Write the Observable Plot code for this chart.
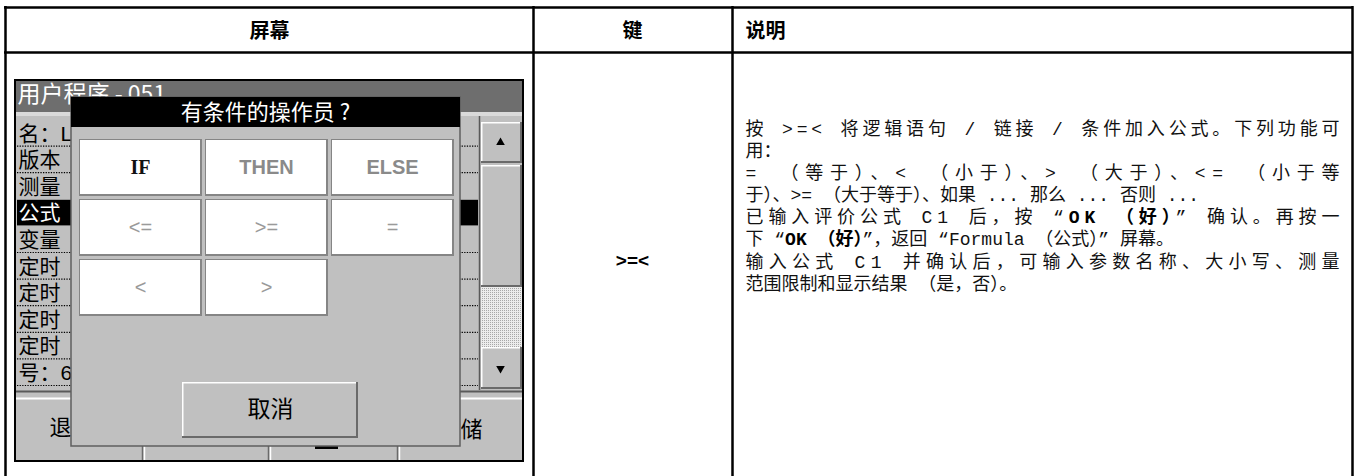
<!DOCTYPE html>
<html>
<head>
<meta charset="utf-8">
<script src="https://cdn.jsdelivr.net/npm/d3@7"></script>
<script src="https://cdn.jsdelivr.net/npm/@observablehq/plot@0.6"></script>
<style>
  html, body { margin: 0; padding: 0; background: #fff; }
  svg { display: block; }
</style>
</head>
<body>
<div id="chart"></div>
<script>
// ---------- content ----------
const headers = ["屏幕", "键", "说明"];
const keyLabels = [">=<"];
const screenTitle = ["用户程序 - 051"];
const dialogTitle = ["有条件的操作员 ?"];
const dialogButtons = ["IF", "THEN", "ELSE", "<=", ">=", "=", "<", ">"];
const cancelLabel = ["取消"];
const listItems = ["名：L", "版本", "测量", "公式", "变量", "定时", "定时", "定时", "定时", "号：6"];
const activeItem = "公式";
const bottomLeft = ["退出"];
const bottomRight = ["存储"];
const descLines = [
  "按 >=< 将逻辑语句 / 链接 / 条件加入公式。下列功能可",
  "用：",
  "= （等于）、< （小于）、> （大于）、<= （小于等",
  "于）、>= （大于等于）、如果 ... 那么 ... 否则 ...",
  "已输入评价公式 C1 后，按 “**OK （好）**” 确认。再按一",
  "下 “**OK （好）**”，返回 “Formula （公式）” 屏幕。",
  "输入公式 C1 并确认后，可输入参数名称、大小写、测量",
  "范围限制和显示结果 （是，否）。"
];
const justifiedLines = [true, false, true, false, true, false, true, false];

// ---------- layout (pixels) ----------
const W = 1355, H = 476;
const CJK = '"Noto Sans CJK SC", sans-serif';
const LIST_FONT = '"Liberation Sans", "Noto Sans CJK SC", sans-serif';
const DESC_FONT = '"Liberation Mono", "Noto Sans CJK SC", monospace';
const rowTop = 119, rowH = 26.6;
const btnCols = [[80, 200], [206, 326], [332, 452]];
const btnRows = [[140, 194], [200, 254], [260, 314]];
const bx1 = (d, i) => btnCols[i % 3][0], bx2 = (d, i) => btnCols[i % 3][1];
const by1 = (d, i) => btnRows[Math.floor(i / 3)][0], by2 = (d, i) => btnRows[Math.floor(i / 3)][1];
const bcx = (d, i) => (btnCols[i % 3][0] + btnCols[i % 3][1]) / 2;
const bcy = (d, i) => (btnRows[Math.floor(i / 3)][0] + btnRows[Math.floor(i / 3)][1]) / 2;

const R = (x1, y1, x2, y2, fill, o = {}) => Plot.rect([0], {x1, y1, x2, y2, fill, ...o});
const raised = (x1, y1, x2, y2, face = "#c0c0c0") => [
  R(x1, y1, x2, y2, "#6a6a6a"),
  R(x1, y1, x2 - 2, y2 - 2, "#ffffff"),
  R(x1 + 1.5, y1 + 1.5, x2 - 2, y2 - 2, face)
];

const listBounds = listItems.map((d, i) => rowTop + (i + 1) * rowH);
const activeIndex = listItems.indexOf(activeItem);
const headerStyle = {y: 31, text: d => d, fontFamily: CJK, fontWeight: 700, fontSize: 20, fill: "#000"};

const marks = [
  // table grid
  Plot.ruleY([7, 52], {x1: 4, x2: 1353, stroke: "#000", strokeWidth: 2.5}),
  Plot.ruleX([5, 533, 732, 1352], {y1: 6, y2: H, stroke: "#000", strokeWidth: 2.5}),
  Plot.text(headers, {...headerStyle, filter: (d, i) => i === 0, x: 269, textAnchor: "middle"}),
  Plot.text(headers, {...headerStyle, filter: (d, i) => i === 1, x: 632, textAnchor: "middle"}),
  Plot.text(headers, {...headerStyle, filter: (d, i) => i === 2, x: 745, textAnchor: "start"}),

  // device screen frame
  R(15, 80, 523, 461, "#c0c0c0", {stroke: "#000", strokeWidth: 2}),
  R(16, 81, 522, 112, "#6e6e6e"),
  R(16, 112, 522, 116, "#dadada"),
  // list rows behind the dialog
  Plot.ruleY(listBounds.filter((d, i) => i !== activeIndex && i !== activeIndex - 1),
    {x1: 17, x2: 478, stroke: "#000", strokeWidth: 1.2, strokeDasharray: "1.3,1.3"}),
  Plot.rect(listItems, {filter: d => d === activeItem, x1: 17, x2: 478,
    y1: (d, i) => rowTop + i * rowH + 1, y2: (d, i) => rowTop + (i + 1) * rowH, fill: "#000"}),
  Plot.text(listItems, {filter: d => d !== activeItem, x: 18, y: (d, i) => rowTop + i * rowH + rowH / 2 + 1,
    text: d => d, textAnchor: "start", fontFamily: LIST_FONT, fontSize: 21, fill: "#000"}),
  Plot.text(listItems, {filter: d => d === activeItem, x: 18, y: (d, i) => rowTop + i * rowH + rowH / 2 + 1,
    text: d => d, textAnchor: "start", fontFamily: LIST_FONT, fontSize: 21, fill: "#fff"}),
  Plot.ruleX([479], {y1: 116, y2: 390, stroke: "#5a5a5a", strokeWidth: 1.5}),

  // scrollbar
  ...raised(481, 122, 522, 163),
  Plot.dot([0], {x: 500, y: 142, symbol: "triangle", r: 3.2, fill: "#000", stroke: "none"}),
  ...raised(481, 165, 522, 287),
  R(481, 287, 522, 347, "url(#dots)"),
  ...raised(481, 347, 522, 389),
  Plot.dot([0], {x: 500, y: 368, symbol: "triangle", r: 3.2, rotate: 180, fill: "#000", stroke: "none"}),

  // bottom button bar
  R(16, 390, 522, 460, "#c0c0c0"),
  Plot.ruleY([391], {x1: 16, x2: 522, stroke: "#5a5a5a", strokeWidth: 2}),
  Plot.ruleY([398], {x1: 16, x2: 522, stroke: "#ffffff", strokeWidth: 2}),
  Plot.ruleX([142, 268, 397], {y1: 398, y2: 460, stroke: "#6a6a6a", strokeWidth: 1.5}),
  Plot.ruleX([144, 270, 399], {y1: 398, y2: 460, stroke: "#ffffff", strokeWidth: 1.5}),
  Plot.text(bottomLeft, {x: 49, y: 427, text: d => d, textAnchor: "start", fontFamily: CJK, fontSize: 22, fill: "#000"}),
  Plot.text(bottomRight, {x: 482, y: 429, text: d => d, textAnchor: "end", fontFamily: CJK, fontSize: 22, fill: "#000"}),
  R(315, 443, 338, 449, "#000"),

  // screen title (partly hidden by the dialog)
  Plot.text(screenTitle, {x: 17, y: 94, text: d => d, textAnchor: "start", fontFamily: CJK, fontSize: 23, fill: "#fff"}),

  // dialog
  R(71, 97, 460, 446, "#c0c0c0", {stroke: "#5f5f5f", strokeWidth: 1.5}),
  R(71, 97, 460, 127, "#000"),
  Plot.text(dialogTitle, {x: 265, y: 112, text: d => d, fontFamily: CJK, fontSize: 22, fill: "#fff"}),

  // dialog buttons
  Plot.rect(dialogButtons, {x1: (d, i) => bx1(d, i) - 1, x2: (d, i) => bx2(d, i) + 2,
    y1: (d, i) => by1(d, i) - 1, y2: (d, i) => by2(d, i) + 2, fill: "#858585"}),
  Plot.rect(dialogButtons, {x1: bx1, x2: bx2, y1: by1, y2: by2, fill: "#ffffff"}),
  Plot.text(dialogButtons, {filter: d => d === "IF", x: bcx, y: bcy, text: d => d,
    fontFamily: '"Liberation Serif", serif', fontWeight: 700, fontSize: 20, fill: "#111"}),
  Plot.text(dialogButtons, {filter: d => d === "THEN" || d === "ELSE", x: bcx, y: bcy, text: d => d,
    fontFamily: '"Liberation Sans", sans-serif', fontWeight: 700, fontSize: 20, fill: "#8a8a8a"}),
  Plot.text(dialogButtons, {filter: d => /[<>=]/.test(d), x: bcx, y: bcy, text: d => d,
    fontFamily: '"Liberation Sans", sans-serif', fontWeight: 400, fontSize: 20, fill: "#9a9a9a"}),

  // cancel button
  ...raised(182, 382, 358, 438),
  Plot.text(cancelLabel, {x: 270, y: 409, text: d => d, fontFamily: CJK, fontSize: 23, fill: "#000"}),

  // key column
  Plot.text(keyLabels, {x: 632, y: 260, text: d => d, fontFamily: '"Liberation Sans", sans-serif',
    fontWeight: 700, fontSize: 19, fill: "#000"}),

  // description column
  Plot.text(descLines, {x: 745, y: (d, i) => 129 + i * 22 + (i >= 6 ? 1 : 0), text: d => d,
    textAnchor: "start", fontFamily: DESC_FONT, fontSize: 18, fill: "#111"})
];

const plot = Plot.plot({
  width: W,
  height: H,
  margin: 0,
  x: {domain: [0, W], range: [0, W], axis: null},
  y: {domain: [0, H], range: [0, H], axis: null},
  style: {background: "#fff", overflow: "hidden"},
  marks
});

// dotted pattern for the scroll track
const svgSel = d3.select(plot);
const pat = svgSel.insert("defs", ":first-child").append("pattern")
  .attr("id", "dots").attr("width", 2).attr("height", 2).attr("patternUnits", "userSpaceOnUse");
pat.append("rect").attr("width", 2).attr("height", 2).attr("fill", "#ececec");
pat.append("rect").attr("width", 1).attr("height", 1).attr("fill", "#a8a8a8");

// bold segments and justified lines in the description
plot.querySelectorAll("text").forEach(node => {
  const i = descLines.indexOf(node.textContent);
  if (i < 0) return;
  const parts = node.textContent.split("**");
  node.textContent = "";
  parts.forEach((p, k) => {
    if (!p) return;
    const t = document.createElementNS("http://www.w3.org/2000/svg", "tspan");
    t.textContent = p;
    if (k % 2 === 1) { t.setAttribute("font-weight", "700"); t.setAttribute("fill", "#000"); }
    node.appendChild(t);
  });
  if (justifiedLines[i]) {
    node.setAttribute("textLength", 594);
    node.setAttribute("lengthAdjust", "spacing");
  }
});

document.getElementById("chart").appendChild(plot);
</script>
</body>
</html>
